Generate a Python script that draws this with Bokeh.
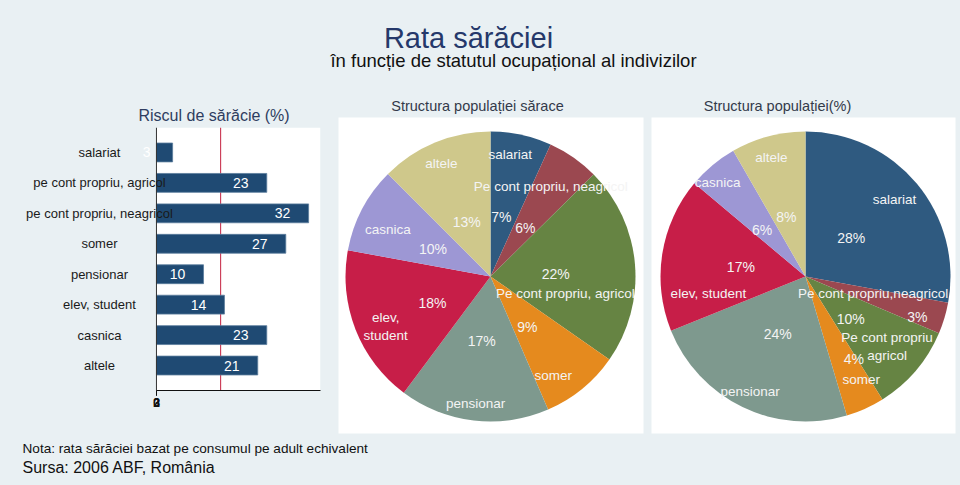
import numpy as np
from bokeh.plotting import figure
from bokeh.models import (ColumnDataSource, Range1d, FactorRange, LabelSet, Label,
                          Span, BoxAnnotation, FixedTicker)
from bokeh.layouts import column, row
from bokeh.core.properties import value
from bokeh.embed import file_html
from bokeh.resources import INLINE

# ---------------- data ----------------
risk_categories = ["salariat", "pe cont propriu, agricol", "pe cont propriu, neagricol",
                   "somer", "pensionar", "elev, student", "casnica", "altele"]
risk_values = [3.4, 23.2, 32.0, 27.2, 9.9, 14.3, 23.2, 21.3]
national_rate = 13.5

pie_names_poor = ["salariat", "Pe cont propriu, neagricol", "Pe cont propriu, agricol",
                  "somer", "pensionar", "elev,\nstudent", "casnica", "altele"]
pie_values_poor = [6.8, 5.8, 22.1, 8.8, 16.7, 17.7, 9.6, 12.5]
pie_pct_poor = ["7%", "6%", "22%", "9%", "17%", "18%", "10%", "13%"]

pie_names_pop = ["salariat", "Pe cont propriu,neagricol", "Pe cont propriu\nagricol",
                 "somer", "pensionar", "elev, student", "casnica", "altele"]
pie_values_pop = [27.9, 3.5, 9.7, 4.3, 23.5, 17.2, 5.6, 8.3]
pie_pct_pop = ["28%", "3%", "10%", "4%", "24%", "17%", "6%", "8%"]

slice_colors = ["#2f5a80", "#9b4850", "#668443", "#e58a1e",
                "#7e998e", "#c71e48", "#9d97d4", "#cfc88b"]

# ---------------- style ----------------
BG = "#e9f0f3"
FONT_NAME = "Liberation Sans"
FONT = value(FONT_NAME)
R = 145  # pie radius in px-like units
ROW_H = 342

def base_fig(w, h, xr, yr):
    p = figure(width=w, height=h, x_range=xr, y_range=yr, output_backend="svg",
               toolbar_location=None, x_axis_type=None, y_axis_type=None)
    p.min_border = 0
    p.min_border_left = p.min_border_right = p.min_border_top = p.min_border_bottom = 0
    p.outline_line_color = None
    p.background_fill_color = BG
    p.border_fill_color = BG
    p.grid.visible = False
    p.frame_align = False
    p.styles = {"background-color": BG}
    return p

# ---------------- header ----------------
header = base_fig(960, 95, Range1d(0, 960), Range1d(95, 0))
header.add_layout(Label(x=468, y=37, text="Rata sărăciei", text_align="center",
                        text_baseline="middle", text_font=FONT_NAME, text_font_size="29px",
                        text_color="#25386a"))
header.add_layout(Label(x=513, y=60, text="în funcție de statutul ocupațional al indivizilor",
                        text_align="center", text_baseline="middle", text_font=FONT_NAME,
                        text_font_size="18.5px", text_color="#111111"))

# ---------------- bar chart ----------------
bar = figure(width=335, height=ROW_H, x_range=Range1d(-32.8, 34.5),
             y_range=FactorRange(factors=list(reversed(risk_categories)), range_padding=0.08),
             output_backend="svg", toolbar_location=None, y_axis_location=None)
bar.min_border_left = 0
bar.min_border_right = 15
bar.min_border_top = 32
bar.min_border_bottom = 47
bar.frame_align = False
bar.styles = {"background-color": BG}
bar.outline_line_color = None
bar.background_fill_color = BG
bar.border_fill_color = BG
bar.grid.visible = False
bar.title.text = "Riscul de sărăcie (%)"
bar.title.align = "left"
bar.title.offset = 138
bar.title.text_font = FONT_NAME
bar.title.text_font_size = "16px"
bar.title.text_font_style = "normal"
bar.title.text_color = "#2e3d60"
bar.title.standoff = 7

bsrc = ColumnDataSource(dict(cat=risk_categories, val=risk_values,
                             lab=["%.0f" % v for v in risk_values],
                             zero=[0] * len(risk_values)))
bar.add_layout(BoxAnnotation(left=0, fill_color="white", fill_alpha=1, line_color=None,
                             level="underlay"))
bar.add_layout(Span(location=national_rate, dimension="height", line_color="#c4213f",
                    line_width=1, level="underlay"))
bar.hbar(y="cat", right="val", left=0, height=0.62, source=bsrc,
         fill_color="#1f4a73", line_color="#5b7c9c", line_width=0.8)
bar.add_layout(Span(location=0, dimension="height", line_color="#333333", line_width=1))
bar.add_layout(LabelSet(x="val", y="cat", text="lab", source=bsrc, x_offset=-26,
                        text_align="center", text_baseline="middle", text_color="white",
                        text_font=FONT, text_font_size="14px"))
bar.add_layout(LabelSet(x="zero", y="cat", text="cat", source=bsrc, x_offset=-57,
                        text_align="center", text_baseline="middle", text_color="#1a1a1a",
                        text_font=FONT, text_font_size="13px"))
bar.xaxis.bounds = (0, 34.5)
bar.xaxis.ticker = FixedTicker(ticks=[0, 0.05, 0.1])
bar.xaxis.major_label_overrides = {0: "0", 0.05: "2", 0.1: "3"}
bar.xaxis.major_tick_in = 0
bar.xaxis.major_tick_out = 5
bar.xaxis.major_tick_line_color = "#111111"
bar.xaxis.minor_tick_line_color = None
bar.xaxis.axis_line_color = "#111111"
bar.xaxis.major_label_text_font = FONT_NAME
bar.xaxis.major_label_text_font_size = "12px"
bar.xaxis.major_label_text_font_style = "bold"
bar.xaxis.major_label_text_color = "#111111"
bar.xaxis.major_label_standoff = 2

# ---------------- pies ----------------
def make_pie(width, xr, panel, title, title_xy, vals, names, pcts,
             name_r, name_da, pct_r, pct_da):
    p = base_fig(width, ROW_H, Range1d(*xr), Range1d(-161, 181))
    p.add_layout(BoxAnnotation(left=panel[0], right=panel[1], bottom=panel[2], top=panel[3],
                               fill_color="white", fill_alpha=1, line_color=None,
                               level="underlay"))
    p.add_layout(Label(x=title_xy[0], y=title_xy[1], text=title, text_align="center",
                       text_baseline="middle", text_font=FONT_NAME, text_font_size="14.5px",
                       text_color="#333a4a"))
    v = np.array(vals, dtype=float)
    frac = v / v.sum()
    cum = np.concatenate([[0], np.cumsum(frac)])
    start = np.pi / 2 - 2 * np.pi * cum[:-1]
    end = np.pi / 2 - 2 * np.pi * cum[1:]
    src = ColumnDataSource(dict(start=start, end=end, color=slice_colors))
    p.wedge(x=0, y=0, radius=R, start_angle="start", end_angle="end", direction="clock",
            fill_color="color", line_color=None, source=src)
    mid = 360 * (cum[:-1] + cum[1:]) / 2
    na = np.radians(mid + np.array(name_da))
    pa = np.radians(mid + np.array(pct_da))
    nr = np.array(name_r) * R
    pr = np.array(pct_r) * R
    lsrc = ColumnDataSource(dict(nx=nr * np.sin(na), ny=nr * np.cos(na), name=names,
                                 px=pr * np.sin(pa), py=pr * np.cos(pa), pct=pcts))
    p.text(x="nx", y="ny", text="name", source=lsrc, text_align="center",
           text_baseline="middle", text_color="#f4f4f4", text_font=FONT,
           text_font_size="13.5px")
    p.text(x="px", y="py", text="pct", source=lsrc, text_align="center",
           text_baseline="middle", text_color="#f4f4f4", text_font=FONT,
           text_font_size="14px")
    return p

pie1 = make_pie(312, (-155, 157), (-152, 153, -157, 159), "Structura populației sărace",
                (-13, 171), pie_values_poor, pie_names_poor, pie_pct_poor,
                name_r=[0.85, 0.745, 0.53, 0.81, 0.88, 0.80, 0.78, 0.85],
                name_da=[-3, -1, 18, 7, 0, -4, -3, -1],
                pct_r=[0.42, 0.41, 0.45, 0.43, 0.45, 0.44, 0.44, 0.41],
                pct_da=[-2, 1, 3, 3, 1, -3, -2, -1])

pie2 = make_pie(313, (-158, 155), (-154, 150, -157, 159), "Structura populației(%)",
                (-28, 171), pie_values_pop, pie_names_pop, pie_pct_pop,
                name_r=[0.81, 0.48, 0.74, 0.81, 0.88, 0.68, 0.89, 0.855],
                name_da=[-1, -3, 0, -4, 0, -19, -3, -1],
                pct_r=[0.41, 0.82, 0.43, 0.66, 0.44, 0.45, 0.44, 0.43],
                pct_da=[0, 3, 3, -6, 0, -1, -3, -3])

# ---------------- footer ----------------
footer = base_fig(960, 48, Range1d(0, 960), Range1d(485, 437))
footer.add_layout(Label(x=22, y=448, text="Nota: rata sărăciei bazat pe consumul pe adult echivalent",
                        text_align="left", text_baseline="middle", text_font=FONT_NAME,
                        text_font_size="13.6px", text_color="#111111"))
footer.add_layout(Label(x=22, y=467, text="Sursa: 2006 ABF, România",
                        text_align="left", text_baseline="middle", text_font=FONT_NAME,
                        text_font_size="16px", text_color="#111111"))

layout = column(header, row(bar, pie1, pie2, spacing=0), footer, spacing=0)
layout.styles = {"background-color": BG}
open("out.html", "w").write(file_html(layout, INLINE))
